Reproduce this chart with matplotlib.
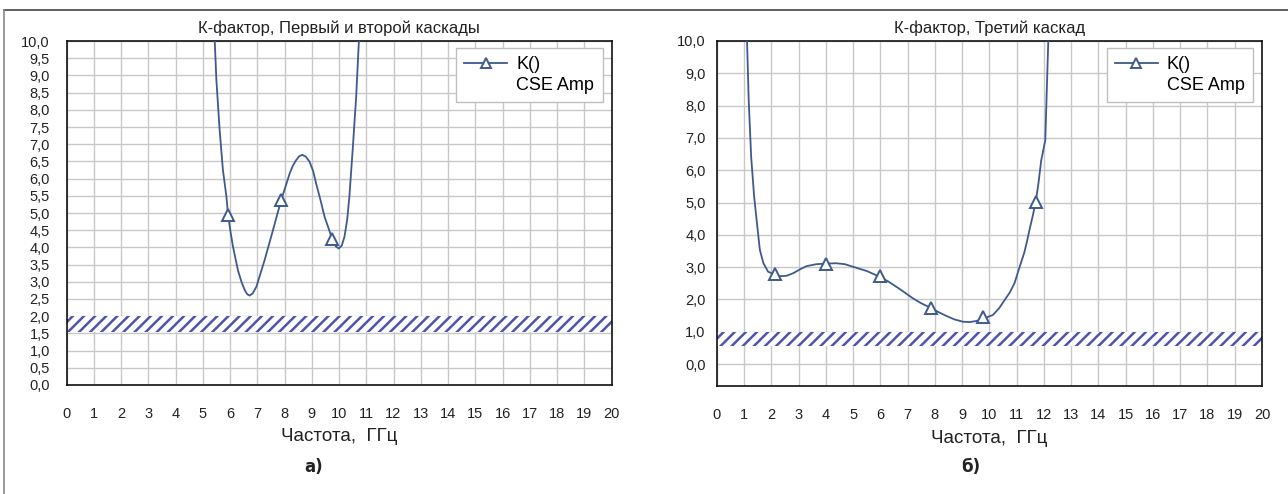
import numpy as np
import matplotlib
matplotlib.use("Agg")
import matplotlib.pyplot as plt
from matplotlib.lines import Line2D
from matplotlib.ticker import FuncFormatter

left_curve_x = [5.44, 5.50, 5.62, 5.74, 5.87, 5.93, 6.02, 6.11, 6.29, 6.42, 6.54, 6.63, 6.72, 6.83, 6.97,
                7.27, 7.58, 7.88, 8.05, 8.19, 8.31, 8.43, 8.54, 8.65, 8.78, 8.92, 9.05, 9.16, 9.32,
                9.47, 9.62, 9.75, 9.87, 9.99, 10.10, 10.20, 10.30, 10.38, 10.51, 10.63, 10.73]
left_curve_y = [10.0, 8.87, 7.41, 6.25, 5.47, 4.94, 4.45, 4.02, 3.34, 3.00, 2.76, 2.64, 2.60, 2.66, 2.86,
                3.63, 4.51, 5.38, 5.80, 6.15, 6.38, 6.54, 6.65, 6.69, 6.64, 6.49, 6.22, 5.86, 5.38,
                4.89, 4.55, 4.24, 4.04, 3.97, 4.05, 4.31, 4.80, 5.47, 6.93, 8.38, 10.0]
left_mark_x = [5.93, 7.88, 9.75]
left_mark_y = [4.94, 5.38, 4.24]
left_band = (1.55, 2.0)

# right panel
right_curve_x = [1.11, 1.17, 1.26, 1.37, 1.50, 1.58, 1.71, 1.88, 2.15, 2.32, 2.55, 2.80, 3.05, 3.29, 3.65,
                 4.02, 4.38, 4.70, 5.00, 5.50, 5.98, 6.30, 6.59, 6.90, 7.20, 7.50, 7.85, 8.15, 8.42,
                 8.72, 9.03, 9.28, 9.51, 9.76, 10.13, 10.35, 10.56, 10.75, 10.92, 11.11, 11.28,
                 11.39, 11.47, 11.58, 11.70, 11.80, 11.90, 12.05, 12.16]
right_curve_y = [10.0, 8.17, 6.42, 5.18, 4.15, 3.53, 3.12, 2.86, 2.76, 2.72, 2.73, 2.81, 2.93, 3.03, 3.09,
                 3.11, 3.12, 3.09, 3.01, 2.88, 2.70, 2.55, 2.39, 2.21, 2.03, 1.88, 1.74, 1.60, 1.49,
                 1.38, 1.31, 1.30, 1.33, 1.40, 1.52, 1.72, 1.98, 2.22, 2.50, 3.01, 3.45,
                 3.84, 4.15, 4.55, 5.02, 5.60, 6.30, 6.93, 10.0]
right_mark_x = [2.15, 4.02, 5.98, 7.85, 9.76, 11.70]
right_mark_y = [2.78, 3.10, 2.72, 1.74, 1.45, 5.02]
right_band = (0.55, 1.0)

titles = ["К-фактор, Первый и второй каскады", "К-фактор, Третий каскад"]
x_label = "Частота,  ГГц"
panel_tags = ["а)", "б)"]
legend_labels = ["K()", "CSE Amp"]

LINE = "#3e5a8e"
BAND = "#4e53b0"
GRID = "#c8c8c8"
TEXT = "#222222"

plt.rcParams["font.family"] = ["Liberation Sans", "DejaVu Sans"]
plt.rcParams["hatch.linewidth"] = 1.8

fig = plt.figure(figsize=(12.88, 4.94), dpi=100)
W, H = 1288.0, 494.0


def px_axes(left, right, top, bottom):
    return fig.add_axes([left / W, 1 - bottom / H, (right - left) / W, (bottom - top) / H])


ax1 = px_axes(66.5, 611.5, 41, 385)
ax2 = px_axes(716.8, 1262, 41, 386)

panels = [
    (ax1, left_curve_x, left_curve_y, left_mark_x, left_mark_y, left_band, (0, 10), np.arange(0, 10.01, 0.5), 12, 16),
    (ax2, right_curve_x, right_curve_y, right_mark_x, right_mark_y, right_band, (-0.68, 10), np.arange(0, 10.01, 1.0), 8, 15.5),
]

for i, (ax, cx, cy, mx, my, band, ylim, yticks, ypad, xpad) in enumerate(panels):
    ax.set_xlim(0, 20)
    ax.set_ylim(*ylim)
    ax.set_xticks(np.arange(0, 21, 1))
    ax.set_yticks(yticks)
    ax.yaxis.set_major_formatter(FuncFormatter(lambda v, _: f"{v:.1f}".replace(".", ",")))
    ax.grid(True, color=GRID, linewidth=1.0, zorder=0)
    ax.set_axisbelow(True)
    ax.tick_params(length=0, labelsize=10.5, colors=TEXT)
    ax.tick_params(axis="x", pad=xpad)
    ax.tick_params(axis="y", pad=ypad)
    for sp in ax.spines.values():
        sp.set_color("#111111")
        sp.set_linewidth(1.2)

    ax.axhspan(band[0], band[1], facecolor="white", edgecolor=BAND, hatch="///", linewidth=0, zorder=2)

    ax.plot(cx, cy, color=LINE, linewidth=1.3, zorder=3, clip_on=True)
    ax.plot(mx, my, linestyle="none", marker="^", markersize=9, markerfacecolor="white",
            markeredgecolor=LINE, markeredgewidth=1.4, zorder=4)

    ax.set_title(titles[i], fontsize=12, color=TEXT, pad=6)
    ax.set_xlabel(x_label, fontsize=13.5, color=TEXT)
    ax.xaxis.set_label_coords(0.5, -0.151)
    ax.xaxis.label.set_verticalalignment("center")

    handles = [
        Line2D([], [], color=LINE, linewidth=1.3, marker="^", markersize=7,
               markerfacecolor="white", markeredgecolor=LINE, markeredgewidth=1.4),
        Line2D([], [], linestyle="none"),
    ]
    leg = ax.legend(handles, legend_labels, loc="upper right", bbox_to_anchor=(1 - 9 / 545, 1 - 7 / 344),
                    borderaxespad=0, fontsize=13, frameon=True, fancybox=False, framealpha=1,
                    edgecolor="#bfbfbf", handlelength=2.4, handletextpad=0.5, labelspacing=0.2,
                    borderpad=0.45)
    leg.get_frame().set_linewidth(1.0)

fig.text(314 / W, 1 - 467 / H, panel_tags[0], fontsize=12, fontweight="bold",
         family=["Liberation Sans Narrow", "DejaVu Sans"], ha="center", va="center", color=TEXT)
fig.text(971 / W, 1 - 467 / H, panel_tags[1], fontsize=12, fontweight="bold",
         family=["Liberation Sans Narrow", "DejaVu Sans"], ha="center", va="center", color=TEXT)

# outer frame of the figure
fig.add_artist(Line2D([4 / W, 1.0], [1 - 10 / H, 1 - 10 / H], color="#444444", linewidth=1.2))
fig.add_artist(Line2D([4 / W, 4 / W], [0, 1 - 10 / H], color="#888888", linewidth=1.2))

fig.savefig("out.png", dpi=100)
